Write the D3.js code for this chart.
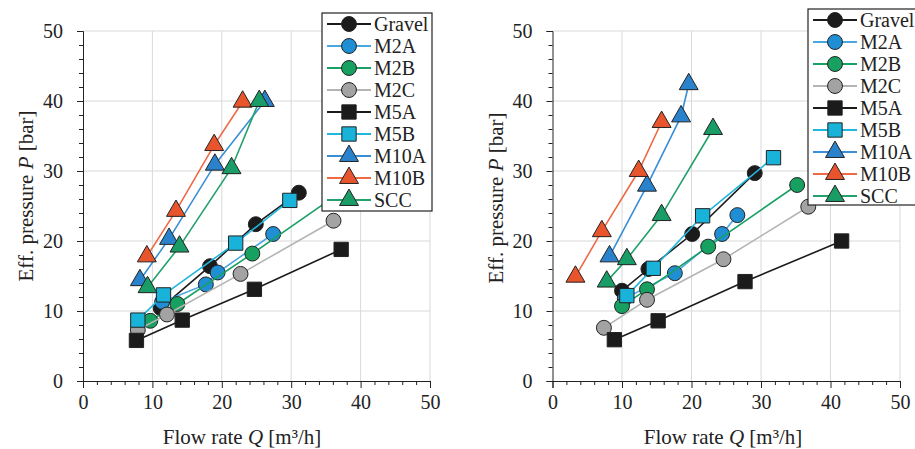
<!DOCTYPE html>
<html>
<head>
<meta charset="utf-8">
<script src="https://cdn.jsdelivr.net/npm/d3@7"></script>
<style>
  html, body { margin: 0; padding: 0; background: #fff; }
  svg { display: block; }
  svg text { font-family: "Liberation Serif", "Times New Roman", serif; }
</style>
</head>
<body>
<svg id="chart" width="915" height="449"></svg>
<script>
// Series names, in legend order
const seriesNames = ["Gravel", "M2A", "M2B", "M2C", "M5A", "M5B", "M10A", "M10B", "SCC"];
const seriesShapes = ["circle", "circle", "circle", "circle", "square", "square", "triangle", "triangle", "triangle"];
const seriesFill = ["#1b1b1b", "#1f8ed3", "#17a060", "#a3a3a3", "#1b1b1b", "#19b2d9", "#2a82cc", "#e8542c", "#1a9c66"];
const seriesLine = ["#1b1b1b", "#4aa6e0", "#19a064", "#b4b4b4", "#1b1b1b", "#22b6dc", "#3a8ed6", "#ee6a44", "#23a06c"];

// Axis ticks
const majorTicks = [0, 10, 20, 30, 40, 50];
const minorTicks = [2, 4, 6, 8, 12, 14, 16, 18, 22, 24, 26, 28, 32, 34, 36, 38, 42, 44, 46, 48];

// Left panel: [flow rate Q, effective pressure P]
const gravelL = [[11.2, 10.4], [18.3, 16.4], [24.9, 22.4], [31.1, 26.9]];
const m2aL    = [[11.4, 11.3], [17.7, 13.8], [19.4, 15.5], [27.4, 21.0]];
const m2bL    = [[9.7, 8.6], [13.6, 11.0], [24.4, 18.2], [36.0, 26.2]];
const m2cL    = [[7.9, 7.3], [12.1, 9.5], [22.7, 15.3], [36.1, 22.9]];
const m5aL    = [[7.7, 5.8], [14.3, 8.7], [24.7, 13.1], [37.2, 18.8]];
const m5bL    = [[7.9, 8.7], [11.6, 12.3], [22.0, 19.7], [29.8, 25.8]];
const m10aL   = [[8.2, 14.4], [12.4, 20.3], [19.0, 30.9], [26.2, 40.0]];
const m10bL   = [[9.2, 17.8], [13.4, 24.3], [18.9, 33.7], [23.0, 39.9]];
const sccL    = [[9.3, 13.4], [13.9, 19.2], [21.4, 30.4], [25.4, 40.0]];

// Right panel: [flow rate Q, effective pressure P]
const gravelR = [[10.0, 12.9], [13.8, 16.0], [20.1, 21.0], [29.1, 29.7]];
const m2aR    = [[10.4, 11.8], [17.6, 15.4], [24.4, 21.0], [26.6, 23.7]];
const m2bR    = [[10.0, 10.7], [13.6, 13.1], [22.4, 19.2], [35.2, 28.0]];
const m2cR    = [[7.4, 7.6], [13.6, 11.6], [24.6, 17.4], [36.8, 24.9]];
const m5aR    = [[8.9, 5.9], [15.2, 8.6], [27.7, 14.2], [41.6, 20.0]];
const m5bR    = [[10.7, 12.2], [14.5, 16.1], [21.6, 23.6], [31.8, 31.9]];
const m10aR   = [[8.2, 17.8], [13.6, 27.9], [18.5, 37.8], [19.6, 42.4]];
const m10bR   = [[3.3, 14.9], [7.1, 21.4], [12.4, 30.0], [15.7, 37.0]];
const sccR    = [[7.8, 14.2], [10.7, 17.4], [15.7, 23.7], [23.1, 36.0]];

const leftSeries  = [gravelL, m2aL, m2bL, m2cL, m5aL, m5bL, m10aL, m10bL, sccL];
const rightSeries = [gravelR, m2aR, m2bR, m2cR, m5aR, m5bR, m10aR, m10bR, sccR];

const svg = d3.select("#chart");
const serif = '"Liberation Serif", "Times New Roman", serif';

const symbolFor = {
  circle:   d3.symbol().type(d3.symbolCircle).size(175),
  square:   d3.symbol().type(d3.symbolSquare).size(205),
  triangle: d3.symbol().type(d3.symbolTriangle).size(155)
};

function drawPanel(opt) {
  const x = d3.scaleLinear().domain([0, 50]).range([opt.x0, opt.x1]);
  const y = d3.scaleLinear().domain([0, 50]).range([opt.y0, opt.y1]);
  const g = svg.append("g");

  // grid at major ticks
  const grid = g.append("g").attr("stroke", "#d9d9d9").attr("stroke-width", 1);
  majorTicks.filter(t => t > 0).forEach(t => {
    grid.append("line").attr("x1", x(t)).attr("x2", x(t)).attr("y1", y(0)).attr("y2", y(50));
    grid.append("line").attr("x1", x(0)).attr("x2", x(50)).attr("y1", y(t)).attr("y2", y(t));
  });

  // axes: major ticks labelled, minor ticks shorter
  g.append("g").attr("transform", `translate(0,${y(0)})`)
    .call(d3.axisBottom(x).tickValues(majorTicks).tickSize(7).tickPadding(7).tickFormat(d3.format("d")));
  g.append("g").attr("transform", `translate(0,${y(0)})`)
    .call(d3.axisBottom(x).tickValues(minorTicks).tickSize(4).tickFormat(""))
    .call(s => s.select(".domain").remove());
  g.append("g").attr("transform", `translate(${x(0)},0)`)
    .call(d3.axisLeft(y).tickValues(majorTicks).tickSize(6).tickPadding(14).tickFormat(d3.format("d")));
  g.append("g").attr("transform", `translate(${x(0)},0)`)
    .call(d3.axisLeft(y).tickValues(minorTicks).tickSize(4).tickFormat(""))
    .call(s => s.select(".domain").remove());
  g.selectAll(".tick text")
    .style("font-family", serif)
    .style("font-size", "20px").attr("fill", "#222");
  g.selectAll(".domain, .tick line").attr("stroke", "#222");

  // axis titles
  const xt = g.append("text").attr("x", opt.xTitleX).attr("y", 444)
    .attr("text-anchor", "middle").style("font-size", "21px").attr("fill", "#222");
  xt.append("tspan").text("Flow rate ");
  xt.append("tspan").attr("font-style", "italic").text("Q");
  xt.append("tspan").text(" [m³/h]");

  const yt = g.append("text")
    .attr("transform", `translate(${opt.yTitleX},${opt.yTitleY}) rotate(-90)`)
    .attr("text-anchor", "middle").style("font-size", "21px").attr("fill", "#222");
  yt.append("tspan").text("Eff. pressure ");
  yt.append("tspan").attr("font-style", "italic").text("P");
  yt.append("tspan").text(" [bar]");

  // series: line then markers, in legend order
  const line = d3.line().x(d => x(d[0])).y(d => y(d[1]));
  opt.series.forEach((pts, i) => {
    const sg = g.append("g");
    sg.append("path").attr("d", line(pts)).attr("fill", "none")
      .attr("stroke", seriesLine[i]).attr("stroke-width", 1.6);
    sg.selectAll("path.mk").data(pts).join("path").attr("class", "mk")
      .attr("d", symbolFor[seriesShapes[i]])
      .attr("transform", d => `translate(${x(d[0])},${y(d[1])})`)
      .attr("fill", seriesFill[i]).attr("stroke", "#222").attr("stroke-width", 1);
  });

  // legend box
  const lg = g.append("g");
  lg.append("rect").attr("x", opt.legX).attr("y", opt.legTop)
    .attr("width", opt.legW).attr("height", opt.legBottom - opt.legTop)
    .attr("fill", "#fff").attr("stroke", "#222").attr("stroke-width", 1.2);
  seriesNames.forEach((name, i) => {
    const cy = opt.legRow0 + i * opt.legStep;
    lg.append("line").attr("x1", opt.legX + 5).attr("x2", opt.legX + 49)
      .attr("y1", cy).attr("y2", cy).attr("stroke", seriesLine[i]).attr("stroke-width", 1.8);
    lg.append("path").attr("d", symbolFor[seriesShapes[i]])
      .attr("transform", `translate(${opt.legX + 27},${cy})`)
      .attr("fill", seriesFill[i]).attr("stroke", "#222").attr("stroke-width", 1);
    lg.append("text").attr("x", opt.legX + 52).attr("y", cy + 6.5)
      .style("font-size", "20px").attr("fill", "#222").text(name);
  });
}

drawPanel({
  x0: 83, x1: 430, y0: 381, y1: 31,
  series: leftSeries,
  xTitleX: 242, yTitleX: 33, yTitleY: 196,
  legX: 322, legW: 110, legTop: 13, legBottom: 211, legRow0: 24, legStep: 22
});

drawPanel({
  x0: 552.5, x1: 900, y0: 381, y1: 31,
  series: rightSeries,
  xTitleX: 723, yTitleX: 503, yTitleY: 198,
  legX: 808, legW: 120, legTop: 9, legBottom: 205, legRow0: 20, legStep: 22
});
</script>
</body>
</html>
